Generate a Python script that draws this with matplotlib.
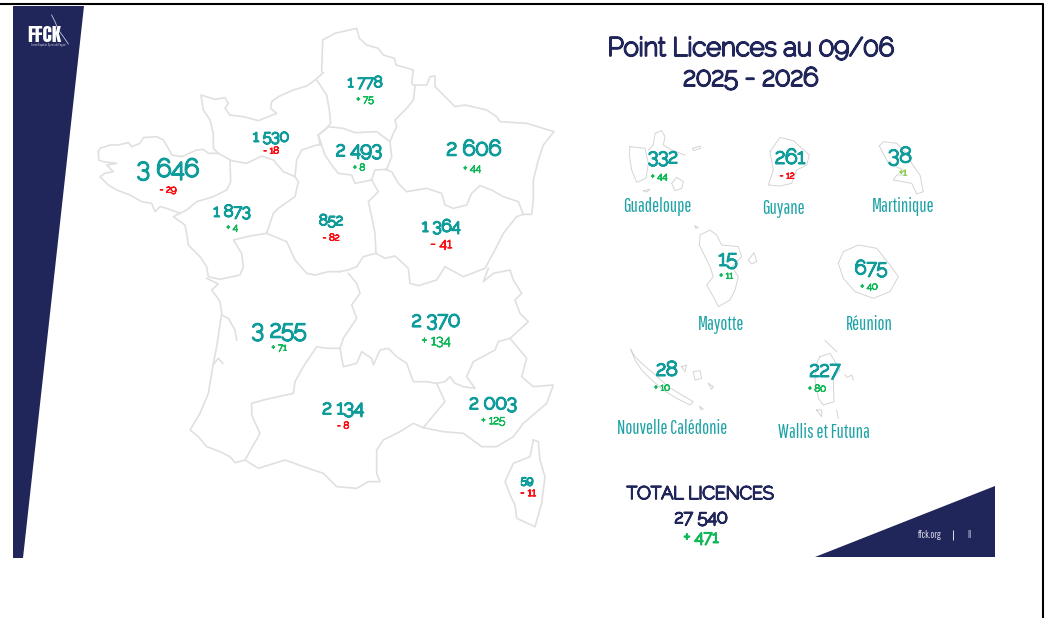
"""FFCK licences slide: regions map with counts and yearly deltas."""
import matplotlib
matplotlib.use("Agg")
import matplotlib.patheffects as pe
import matplotlib.pyplot as plt
from matplotlib.patches import Polygon

NAVY = "#20255a"
TEAL = "#0f9c9b"
NAME_TEAL = "#1fa3a6"
GREEN = "#10b858"
LIGHT_GREEN = "#8fd14f"
RED = "#fb0f14"
OUTLINE = "#e0e0e0"

plt.rcParams["font.family"] = ["Raleway", "Lato", "DejaVu Sans"]
NARROW = ["Pathway Gothic One", "Antonio", "Roboto", "DejaVu Sans"]

COUNTS = ["3 646", "1 530", "1 873", "1 778", "2 493", "2 606", "852", "1 364", "3 255",
          "2 370", "2 134", "2 003", "59"]
DELTAS = ["- 29", "- 18", "+ 4", "+ 75", "+ 8", "+ 44", "- 82", "- 41", "+ 71", "+ 134",
          "- 8", "+ 125", "- 11"]
COUNT_POS = [(168, 170), (271, 137), (232, 212), (365, 83), (359, 151), (474, 149), (331, 221),
             (441, 227), (279, 331), (436, 321), (343, 409), (493, 404), (527, 481)]
DELTA_POS = [(168, 190), (271, 151), (232, 228), (365, 100), (359, 168), (472, 169), (331, 238),
             (441, 244), (279, 348), (436, 341), (343, 426), (493, 421), (528, 493)]
COUNT_SIZE = [18, 11.3, 11.8, 11, 14, 15.5, 10.8, 12.2, 16.8, 14.5, 13.8, 13.8, 8]
DELTA_SIZE = [7, 7, 7, 7.2, 7, 7.5, 7, 10, 7, 10, 7, 8.4, 8]

OVERSEAS = ["Guadeloupe", "Guyane", "Martinique", "Mayotte", "Réunion", "Nouvelle Calédonie",
            "Wallis et Futuna"]
OS_COUNTS = ["332", "261", "38", "15", "675", "28", "227"]
OS_DELTAS = ["+ 44", "- 12", "+1", "+ 11", "+ 40", "+ 10", "+ 80"]
OS_COUNT_POS = [(663, 158), (790, 158), (900, 156), (728, 260), (871, 269), (667, 370), (825, 371)]
OS_DELTA_POS = [(659, 177), (787, 176), (903, 173), (726, 276), (869, 287), (662, 388), (817, 389)]
OS_NAME_POS = [(657, 207), (783, 208), (903, 207), (721, 324), (869, 324), (672, 428), (824, 432)]
OS_COUNT_SIZE = [14, 14.8, 15.5, 15, 14, 14.5, 14.8]

# outlines traced on 3x crops, listed as (crop origin, points)
NW = (0, 0)
NE = (300, 20)
SOUTH = (180, 260)
ISLES = (610, 120)
PACIFIC = (610, 340)

OUTLINES = [
    # Bretagne
    (NW, [(295, 455), (300, 445), (330, 435), (355, 435), (385, 428), (395, 440), (420, 430), (430, 413),
          (470, 410), (490, 420), (505, 445), (515, 465), (545, 470), (590, 450), (610, 448), (625, 460),
          (655, 460)]),
    (NW, [(690, 480), (692, 545), (680, 570), (640, 590), (590, 605), (560, 630), (540, 640), (500, 625),
          (480, 620), (465, 635), (455, 610), (425, 605), (390, 585), (350, 570), (325, 555), (300, 530),
          (315, 520), (340, 515), (320, 495), (350, 490), (310, 485), (296, 480), (295, 455)]),
    # Normandie
    (NW, [(655, 460), (640, 445), (640, 400), (630, 360), (610, 330), (603, 285), (625, 292), (645, 298),
          (675, 293), (685, 310), (675, 325), (690, 345), (730, 350), (775, 362), (830, 340), (812, 325),
          (815, 305), (835, 290), (880, 270), (920, 258), (945, 240), (970, 218)]),
    (NW, [(655, 460), (695, 482), (740, 490), (785, 468), (820, 480), (850, 515), (885, 530), (895, 545)]),
    (NW, [(885, 530), (890, 480), (905, 450), (950, 435), (960, 435)]),
    # Pays de la Loire
    (NW, [(540, 640), (520, 650), (555, 675), (560, 700), (565, 735), (600, 770), (620, 800), (625, 830),
          (660, 838), (720, 825), (730, 800), (725, 760), (700, 720), (750, 708), (800, 700), (820, 640),
          (835, 625), (885, 590), (895, 545)]),
    (NW, [(800, 700), (860, 725), (885, 780), (920, 820), (945, 825), (985, 815), (1020, 815)]),
    # Hauts-de-France and Normandie east
    (NE, [(65, 155), (68, 60), (105, 40), (170, 25), (178, 55), (200, 75), (235, 85),
          (250, 105), (283, 115), (288, 135), (340, 150), (335, 190), (345, 200), (340, 240), (320, 265),
          (285, 300), (290, 320), (278, 345), (270, 365)]),
    (NE, [(50, 180), (80, 225), (88, 270), (92, 310), (80, 325), (55, 345), (60, 375)]),
    # Ile-de-France
    (NE, [(55, 345), (85, 320), (130, 325), (165, 338), (230, 335), (270, 365), (275, 410), (260, 448),
          (225, 450), (215, 480), (165, 490), (155, 465), (115, 460), (95, 435), (75, 405), (55, 345)]),
    # Grand Est
    (NE, [(345, 195), (380, 195), (390, 170), (405, 168), (405, 200), (430, 225), (465, 260), (495, 255),
          (560, 270), (590, 290), (600, 305), (680, 310), (762, 335), (730, 375), (715, 420), (700, 480),
          (700, 540), (695, 583), (670, 583), (655, 545), (610, 530), (575, 510), (540, 497), (515, 520),
          (500, 555), (460, 565), (435, 555), (425, 520), (380, 505), (320, 515), (295, 490), (275, 455),
          (255, 448)]),
    # Centre east
    (NE, [(215, 480), (235, 515), (205, 545), (215, 590), (225, 640), (228, 700), (190, 710), (170, 740),
          (145, 750), (118, 755)]),
    # Bourgogne south
    (NE, [(228, 700), (255, 715), (285, 708), (325, 745), (330, 790), (355, 797), (410, 780), (435, 740),
          (490, 770), (555, 745), (590, 680), (610, 640), (650, 590), (670, 583)]),
    # Auvergne
    (SOUTH, [(505, 40), (530, 70), (540, 100), (515, 135), (530, 175), (490, 235), (480, 265), (490, 320),
             (530, 310), (545, 275), (575, 295), (580, 315), (600, 270), (625, 265), (650, 290), (680, 310),
             (700, 365), (740, 365), (770, 370), (795, 365), (810, 350), (825, 370), (850, 380), (885, 385),
             (860, 350), (880, 305), (945, 270), (955, 245), (990, 235), (1045, 185), (1020, 160), (1005, 120),
             (1025, 100), (1000, 60), (990, 30), (940, 40), (910, 65), (925, 25)]),
    # Nouvelle-Aquitaine
    (SOUTH, [(80, 55), (115, 72), (95, 90), (110, 110), (120, 125), (125, 160), (110, 260), (100, 310),
             (85, 400), (60, 460), (30, 510), (55, 530), (80, 560), (120, 575), (150, 590), (165, 608),
             (195, 600), (240, 520), (215, 465), (215, 430), (250, 420), (340, 400), (345, 365), (370, 320),
             (410, 260), (440, 265), (480, 265)]),
    (SOUTH, [(125, 165), (145, 175), (165, 210), (170, 240)]),
    (SOUTH, [(103, 310), (115, 295), (128, 310)]),
    # Occitanie
    (SOUTH, [(195, 600), (235, 625), (315, 600), (385, 625), (430, 640), (470, 680), (530, 685), (565, 665),
             (600, 665), (590, 640), (590, 570), (610, 540), (660, 515), (700, 490), (730, 503), (795, 425),
             (770, 370)]),
    # PACA
    (SOUTH, [(730, 503), (790, 515), (850, 520), (905, 560), (950, 560), (1000, 530), (1030, 490), (1100, 430),
             (1120, 375), (1060, 380), (1025, 350), (1040, 295), (990, 235)]),
    # Corse
    (SOUTH, [(1060, 540), (1075, 545), (1080, 600), (1095, 650), (1085, 730), (1065, 800), (1010, 775),
             (1005, 735), (995, 715), (975, 665), (1000, 610), (1050, 590), (1060, 540)]),
]

OS_OUTLINES = [
    # Guadeloupe
    (ISLES, [(60, 80), (105, 85), (115, 130), (108, 175), (80, 187), (65, 150), (58, 105), (60, 80)]),
    (ISLES, [(115, 90), (130, 75), (135, 40), (155, 32), (165, 50), (160, 75), (185, 90), (225, 105)]),
    (ISLES, [(185, 190), (200, 172), (220, 185), (215, 205), (195, 212), (185, 190)]),
    (ISLES, [(248, 85), (270, 78), (272, 85), (250, 92), (248, 85)]),
    (ISLES, [(100, 212), (120, 208), (110, 216), (100, 212)]),
    # Guyane
    (ISLES, [(480, 95), (510, 52), (550, 62), (598, 105), (590, 135), (560, 150), (545, 190), (510, 198),
             (475, 195), (490, 150), (480, 95)]),
    # Martinique
    (ISLES, [(808, 78), (820, 65), (860, 70), (890, 100), (905, 130), (930, 165), (940, 215), (920, 222),
             (905, 190), (850, 180), (860, 165), (885, 165), (880, 150), (835, 130), (808, 78)]),
    # Mayotte
    (ISLES, [(268, 375), (270, 345), (300, 330), (320, 345), (335, 375), (385, 380), (395, 410), (365, 440),
             (385, 470), (375, 510), (360, 540), (325, 560), (310, 530), (290, 495), (310, 470), (300, 440),
             (268, 375)]),
    (ISLES, [(415, 420), (432, 398), (440, 425), (425, 432), (415, 420)]),
    (ISLES, [(255, 318), (265, 322), (258, 326), (255, 318)]),
    # Reunion
    (ISLES, [(685, 430), (700, 395), (745, 375), (800, 385), (840, 435), (865, 470), (840, 515), (790, 535),
             (735, 515), (700, 475), (685, 430)]),
    # Nouvelle Caledonie
    (PACIFIC, [(62, 28), (75, 50), (95, 70), (130, 100), (175, 140), (215, 165), (250, 185), (240, 195),
               (200, 175), (160, 150), (125, 120), (95, 90), (75, 60), (62, 28)]),
    (PACIFIC, [(250, 95), (270, 92), (275, 115), (255, 120), (250, 95)]),
    (PACIFIC, [(295, 130), (310, 140), (305, 148), (295, 130)]),
    (PACIFIC, [(215, 80), (230, 75), (225, 95), (215, 80)]),
    (PACIFIC, [(270, 200), (280, 207), (272, 208), (270, 200)]),
    # Wallis et Futuna
    (PACIFIC, [(630, 50), (660, 40), (675, 65), (690, 90), (670, 115), (672, 185), (640, 195), (625, 175),
               (615, 120), (620, 70), (630, 50)]),
    (PACIFIC, [(645, 2), (680, 35)]),
    (PACIFIC, [(620, 210), (635, 210), (635, 230), (620, 210)]),
    (PACIFIC, [(680, 210), (685, 235)]),
    (PACIFIC, [(705, 105), (712, 112), (725, 105), (730, 120)]),
]

LOGO_SWIRL = [(155, 45), (165, 65), (175, 90), (190, 110), (205, 132)]


def crop_xy(origin, pts):
    return [origin[0] + p[0] / 3 for p in pts], [origin[1] + p[1] / 3 for p in pts]


def delta_colour(txt):
    if txt == "+1":
        return LIGHT_GREEN
    return RED if txt.startswith("-") else GREEN


def heavy(ax, pos, txt, colour, size, stroke):
    # the installed Raleway draws thin, so the weight comes from a stroke of the same colour
    t = ax.text(pos[0], pos[1], txt, color=colour, fontsize=size, ha="center", va="center")
    t.set_path_effects([pe.withStroke(linewidth=stroke, foreground=colour)])
    return t


fig = plt.figure(figsize=(10.47, 6.19), dpi=100)
ax = fig.add_axes([0, 0, 1, 1])
ax.set_xlim(0, 1047)
ax.set_ylim(619, 0)
ax.axis("off")

# slide frame and navy corners
ax.plot([0, 1042.5, 1042.5], [4, 4, 618], color="black", lw=1.5, solid_capstyle="butt")
ax.add_patch(Polygon([(13, 6), (84, 6), (23, 558), (13, 558)], color=NAVY, lw=0))
ax.add_patch(Polygon([(815, 557), (995, 486), (995, 557)], color=NAVY, lw=0))

for origin, pts in OUTLINES:
    ax.plot(*crop_xy(origin, pts), color=OUTLINE, lw=1.2, solid_joinstyle="round")
for origin, pts in OS_OUTLINES:
    ax.plot(*crop_xy(origin, pts), color="#d4d4d4", lw=0.7, solid_joinstyle="round")

for cnt, dlt, cp, dp, cs, ds in zip(COUNTS, DELTAS, COUNT_POS, DELTA_POS, COUNT_SIZE, DELTA_SIZE):
    heavy(ax, cp, cnt, TEAL, cs, 0.8 + cs * 0.045)
    heavy(ax, dp, dlt, delta_colour(dlt), ds, 0.75)

for name, cnt, dlt, cp, dp, np_, cs in zip(OVERSEAS, OS_COUNTS, OS_DELTAS, OS_COUNT_POS, OS_DELTA_POS,
                                           OS_NAME_POS, OS_COUNT_SIZE):
    heavy(ax, cp, cnt, TEAL, cs, 1.4)
    heavy(ax, dp, dlt, delta_colour(dlt), 7, 0.75)
    ax.text(*np_, name, color=NAME_TEAL, fontsize=13.5, family=NARROW, ha="center", va="center")

heavy(ax, (751, 49), "Point Licences au 09/06", NAVY, 18.6, 1.6)
heavy(ax, (751, 79), "2025 - 2026", NAVY, 18.6, 1.6)
heavy(ax, (700, 494), "TOTAL LICENCES", NAVY, 12.8, 1.3)
heavy(ax, (701, 518), "27 540", NAVY, 13, 1.3)
heavy(ax, (701, 538), "+ 471", GREEN, 12, 1.3)

# logo and footer
ax.plot(*crop_xy(NW, LOGO_SWIRL), color="#c8cadc", lw=0.6)
ax.text(44, 35, "FFCK", color="white", fontsize=14, fontweight="bold",
        family=["Anton", "Bebas Neue", "DejaVu Sans"], ha="center", va="center")
ax.text(48, 45, "Canoë Kayak et Sports de Pagaie", color="#c8cadc", fontsize=2.5, family=NARROW,
        ha="center", va="center")
ax.text(930, 535, "ffck.org", color="#d8d9e6", fontsize=7.5, family=NARROW, ha="center", va="center")
heavy(ax, (953, 535), "|", "white", 8, 0.6)
ax.text(969, 535, "II", color="#d8d9e6", fontsize=7.5, family=NARROW, ha="center", va="center")

fig.savefig("out.png", dpi=100)
